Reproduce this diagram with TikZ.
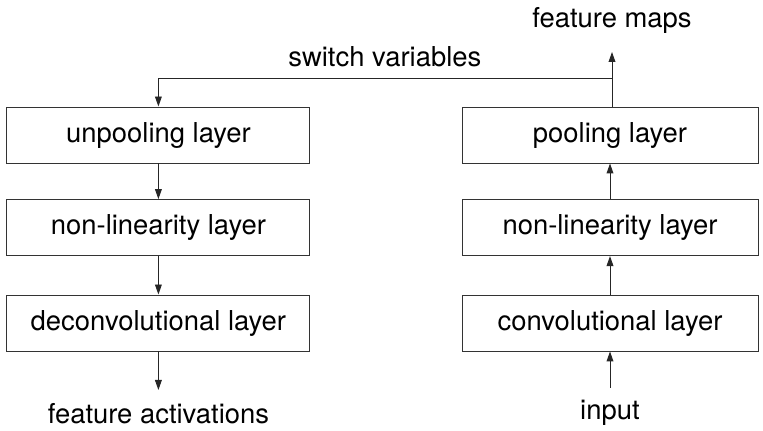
\documentclass[tikz,border=0pt]{standalone}
\usepackage{fontspec}
\setmainfont{TeX Gyre Heros}
\usetikzlibrary{arrows.meta}

\begin{document}
\begin{tikzpicture}[
    layer/.style={draw=black!80, line width=0.7pt, minimum height=1.4cm, font=\fontsize{19.5}{22}\selectfont},
    conn/.style={draw=black!85, line width=0.7pt, -{Triangle[length=2.5mm,width=1.7mm]}},
    lbl/.style={font=\fontsize{19.5}{22}\selectfont}
]
\useasboundingbox (0,0) rectangle (19.075,-10.775);

% backward path (left column)
\node[layer, minimum width=7.575cm] (unpool) at (3.96,-3.375) {unpooling layer};
\node[layer, minimum width=7.575cm] (unlin) at (3.96,-5.69) {non-linearity layer};
\node[layer, minimum width=7.575cm] (deconv) at (3.96,-8.075) {deconvolutional layer};
\node[lbl] (act) at (3.96,-10.33) {feature activations};
\coordinate (actend) at (3.96,-9.75);

% forward path (right column)
\node[layer, minimum width=7.4cm] (pool) at (15.25,-3.375) {pooling layer};
\node[layer, minimum width=7.4cm] (lin) at (15.25,-5.69) {non-linearity layer};
\node[layer, minimum width=7.4cm] (conv) at (15.25,-8.075) {convolutional layer};
\node[lbl] (inp) at (15.25,-10.33) {input};
\coordinate (inpstart) at (15.25,-9.7);
\node[lbl] (maps) at (15.3,-0.5) {feature maps};
\coordinate (mapsend) at (15.3,-1.3);

% switches passed from pooling to unpooling
\coordinate (sw) at (15.3,-1.95);
\node[lbl] (swlbl) at (9.62,-1.42) {switch variables};

\draw[conn] (inpstart) -- (conv);
\draw[conn] (conv) -- (lin);
\draw[conn] (lin) -- (pool);
\draw[conn] (pool.north -| sw) -- (mapsend);
\draw[conn] (sw) -| (unpool.north);
\draw[conn] (unpool) -- (unlin);
\draw[conn] (unlin) -- (deconv);
\draw[conn] (deconv) -- (actend);

\end{tikzpicture}
\end{document}
